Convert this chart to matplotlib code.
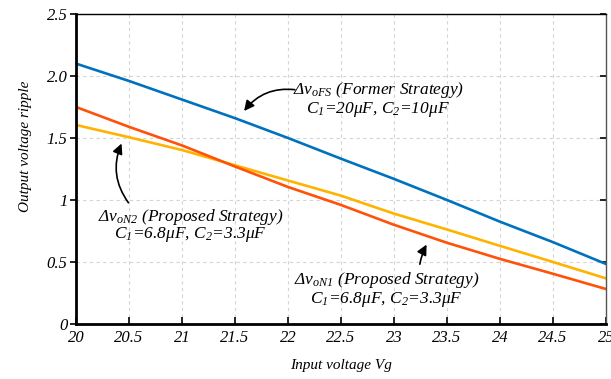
import numpy as np
import matplotlib
matplotlib.use('Agg')
import matplotlib.pyplot as plt

plt.rcParams['font.family'] = ['Liberation Serif', 'DejaVu Serif']
plt.rcParams['font.style'] = 'italic'
plt.rcParams['mathtext.fontset'] = 'custom'
plt.rcParams['mathtext.rm'] = 'Liberation Serif:italic'
plt.rcParams['mathtext.it'] = 'Liberation Serif:italic'

# data
vg = [20, 20.5, 21, 21.5, 22, 22.5, 23, 23.5, 24, 24.5, 25]
ripple_fs = [2.10, 1.96, 1.81, 1.66, 1.50, 1.333, 1.17, 1.0, 0.825, 0.66, 0.484]
ripple_n2 = [1.605, 1.506, 1.403, 1.28, 1.157, 1.035, 0.89, 0.762, 0.63, 0.50, 0.368]
ripple_n1 = [1.75, 1.59, 1.44, 1.27, 1.105, 0.96, 0.80, 0.655, 0.525, 0.405, 0.282]

xticks = [20, 20.5, 21, 21.5, 22, 22.5, 23, 23.5, 24, 24.5, 25]
xticklabels = ['20', '20.5', '21', '21.5', '22', '22.5', '23', '23.5', '24', '24.5', '25']
yticks = [0, 0.5, 1, 1.5, 2.0, 2.5]
yticklabels = ['0', '0.5', '1', '1.5', '2.0', '2.5']

fig = plt.figure(figsize=(6.11, 3.79), dpi=100)
ax = fig.add_axes([76/611, 1-324/379, 530/611, 310/379])

ax.plot(vg, ripple_fs, color='#0072BD', lw=1.9)
ax.plot(vg, ripple_n2, color='#FFB300', lw=1.9)
ax.plot(vg, ripple_n1, color='#FF5208', lw=1.9)

ax.set_xlim(20, 25)
ax.set_ylim(0, 2.5)
ax.set_xticks(xticks)
ax.set_xticklabels(xticklabels)
ax.set_yticks(yticks)
ax.set_yticklabels(yticklabels)
ax.grid(True, color='#d4d4d4', lw=0.8, ls=(0, (3, 3)))
ax.set_axisbelow(True)

ax.spines['left'].set_linewidth(2)
ax.spines['bottom'].set_linewidth(2)
ax.spines['top'].set_linewidth(1)
ax.spines['right'].set_linewidth(1)
ax.spines['right'].set_color('#555555')
ax.tick_params(axis='x', direction='in', length=5, width=1.2, pad=4)
ax.tick_params(axis='y', direction='out', length=4, width=1.2, pad=2, right=True)
for t in ax.yaxis.get_major_ticks():
    t.tick2line.set_marker(matplotlib.lines.TICKLEFT)
    t.tick2line.set_markersize(4)

for lab in ax.get_xticklabels() + ax.get_yticklabels():
    lab.set_fontfamily('Liberation Serif')
    lab.set_fontstyle('italic')
    lab.set_fontsize(12)

ax.set_xlabel('Input voltage Vg', fontsize=11, fontstyle='italic', labelpad=10)
ax.set_ylabel('Output voltage ripple', fontsize=11, fontstyle='italic')
ax.yaxis.set_label_coords(-0.083, 0.574)

arrow = dict(arrowstyle='-|>', color='black', lw=1.2, mutation_scale=15)
tkw = dict(fontsize=12.5, fontstyle='italic', ha='center', va='center')

ax.annotate('', xy=(21.57, 1.70), xytext=(22.09, 1.887),
            arrowprops=dict(arrow, connectionstyle='arc3,rad=0.3'))
ax.text(22.85, 1.887, '$\\Delta v_{oFS}$ (Former Strategy)', **tkw)
ax.text(22.85, 1.726, '$C_1$=20μF, $C_2$=10μF', **tkw)

ax.annotate('', xy=(20.44, 1.476), xytext=(20.51, 0.96),
            arrowprops=dict(arrow, connectionstyle='arc3,rad=-0.3'))
ax.text(21.08, 0.863, '$\\Delta v_{oN2}$ (Proposed Strategy)', **tkw)
ax.text(21.08, 0.718, '$C_1$=6.8μF, $C_2$=3.3μF', **tkw)

ax.annotate('', xy=(23.32, 0.66), xytext=(23.24, 0.46),
            arrowprops=dict(arrow, connectionstyle='arc3,rad=-0.1'))
ax.text(22.93, 0.355, '$\\Delta v_{oN1}$ (Proposed Strategy)', **tkw)
ax.text(22.93, 0.194, '$C_1$=6.8μF, $C_2$=3.3μF', **tkw)

fig.savefig('out.png', dpi=100)
